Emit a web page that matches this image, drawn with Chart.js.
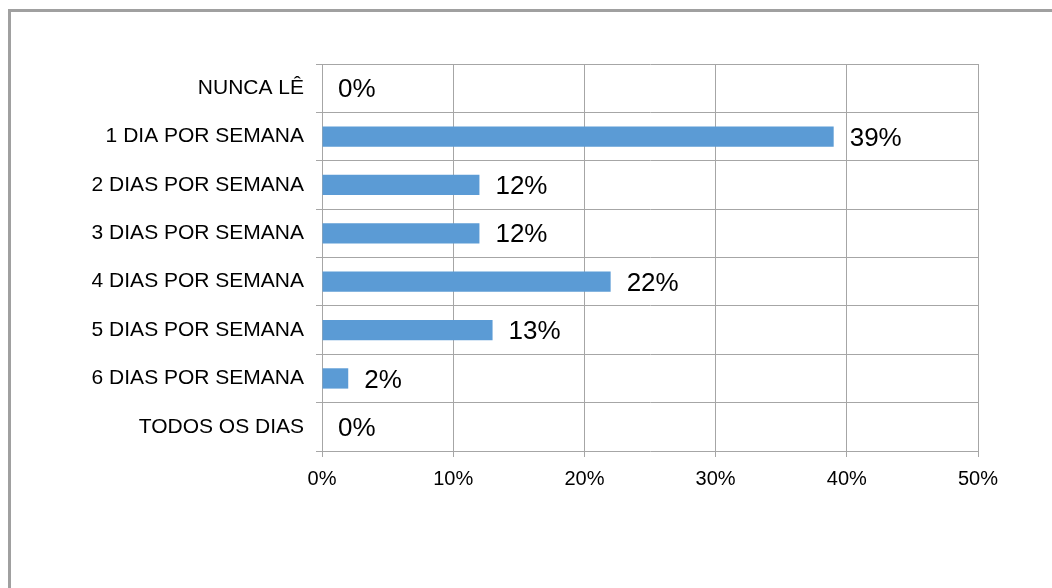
<!DOCTYPE html>
<html>
<head>
<meta charset="utf-8">
<script src="https://cdn.jsdelivr.net/npm/chart.js@4/dist/chart.umd.min.js"></script>
<style>
  html, body { margin: 0; padding: 0; background: #fff; }
  #frame { position: absolute; left: 8px; top: 9px; width: 1100px; height: 700px; border: 3px solid #a0a0a0; box-sizing: border-box; }
  #wrap { position: absolute; left: 0; top: 0; width: 1052px; height: 588px; }
</style>
</head>
<body>
<div id="frame"></div>
<div id="wrap"><canvas id="chart" width="1052" height="588"></canvas></div>
<script>
const categories = ['NUNCA LÊ', '1 DIA POR SEMANA', '2 DIAS POR SEMANA', '3 DIAS POR SEMANA',
  '4 DIAS POR SEMANA', '5 DIAS POR SEMANA', '6 DIAS POR SEMANA', 'TODOS OS DIAS'];
const values = [0, 39, 12, 12, 22, 13, 2, 0];
const xTicks = [0, 10, 20, 30, 40, 50];

const font = 'Liberation Sans, Arial, sans-serif';
const gridColor = '#a6a6a6';

// draws the "NN%" labels after each bar
const valueLabels = {
  id: 'valueLabels',
  afterDatasetsDraw(chart) {
    const ctx = chart.ctx;
    const meta = chart.getDatasetMeta(0);
    ctx.save();
    ctx.font = '26px ' + font;
    ctx.fillStyle = '#000';
    ctx.textAlign = 'left';
    ctx.textBaseline = 'middle';
    meta.data.forEach((bar, i) => {
      ctx.fillText(values[i] + '%', bar.x + 16, bar.y + 2);
    });
    ctx.restore();
  }
};

new Chart(document.getElementById('chart').getContext('2d'), {
  type: 'bar',
  data: {
    labels: categories,
    datasets: [{
      data: values,
      backgroundColor: '#5b9bd5',
      borderWidth: 0,
      categoryPercentage: 1,
      barPercentage: 0.42
    }]
  },
  options: {
    indexAxis: 'y',
    responsive: false,
    animation: false,
    layout: { padding: { top: 64, right: 74, left: 0, bottom: 0 } },
    plugins: { legend: { display: false }, tooltip: { enabled: false } },
    scales: {
      x: {
        min: 0,
        max: 50,
        afterBuildTicks: s => { s.ticks = xTicks.map(v => ({ value: v })); },
        afterFit: s => { s.height = 137; },
        grid: { color: gridColor, lineWidth: 1, tickLength: 6 },
        border: { display: false },
        ticks: { color: '#000', font: { family: font, size: 20 }, padding: 10, callback: v => v + '%' }
      },
      y: {
        afterFit: s => { s.width = 322; },
        grid: { color: gridColor, lineWidth: 1, tickLength: 6, offset: true },
        border: { color: gridColor, width: 1 },
        ticks: { color: '#000', font: { family: font, size: 21 }, padding: 12 }
      }
    }
  },
  plugins: [valueLabels]
});
</script>
</body>
</html>
